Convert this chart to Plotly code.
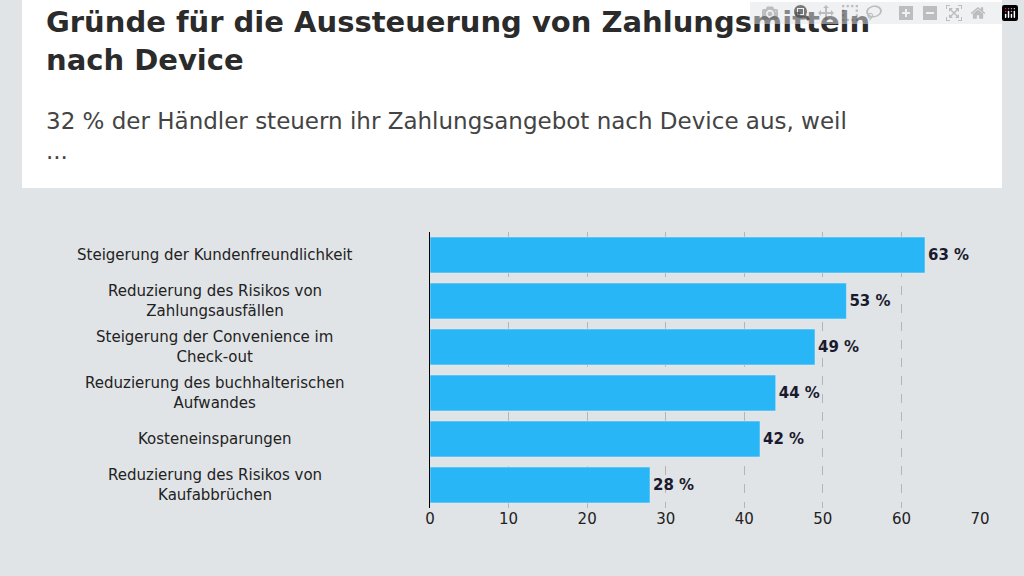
import plotly.graph_objects as go

categories = [
    "Steigerung der Kundenfreundlichkeit",
    "Reduzierung des Risikos von<br>Zahlungsausfällen",
    "Steigerung der Convenience im<br>Check-out",
    "Reduzierung des buchhalterischen<br>Aufwandes",
    "Kosteneinsparungen",
    "Reduzierung des Risikos von<br>Kaufabbrüchen",
]
values = [63, 53, 49, 44, 42, 28]
ticks = [0, 10, 20, 30, 40, 50, 60, 70]

fig = go.Figure(go.Bar(
    x=values, y=categories, orientation="h",
    marker_color="#29b6f6", width=0.78,
    text=[f"<b>{v} %</b>" for v in values], textposition="outside",
    textfont=dict(size=15, color="#1a1a2e", family="DejaVu Sans"),
    cliponaxis=False,
))

# Kategorien als zentrierte Annotationen
for c in categories:
    fig.add_annotation(x=-0.391, y=c, xref="paper", yref="y", text=c,
                       showarrow=False, align="center", xanchor="center",
                       font=dict(size=15, color="#222", family="DejaVu Sans"))

fig.add_shape(type="rect", xref="paper", yref="paper", x0=-0.7418, x1=1.04,
              y0=1.1594, y1=1.9, fillcolor="white", line_width=0, layer="below")

fig.add_annotation(xref="paper", yref="paper", x=-0.7418 + 22 / 550, y=1.83,
                   xanchor="left", yanchor="top",
                   text="<b>Gründe für die Aussteuerung von Zahlungsmitteln<br>nach Device</b>",
                   showarrow=False, align="left",
                   font=dict(size=29, color="#2b2b2b", family="DejaVu Sans"))

fig.add_annotation(xref="paper", yref="paper", x=-0.7418 + 22 / 550, y=1.455,
                   xanchor="left", yanchor="top",
                   text="32 % der Händler steuern ihr Zahlungsangebot nach Device aus, weil<br>...",
                   showarrow=False, align="left",
                   font=dict(size=23, color="#444", family="DejaVu Sans"))

fig.update_layout(
    width=1024, height=576,
    paper_bgcolor="#e1e4e7", plot_bgcolor="#e1e4e7",
    margin=dict(l=430, r=44, t=232, b=68),
    showlegend=False,
    xaxis=dict(range=[0, 70], tickvals=ticks, showgrid=True, gridcolor="#b5b5b5",
               griddash="dash", zeroline=False,
               tickfont=dict(size=15, color="#222", family="DejaVu Sans")),
    yaxis=dict(autorange="reversed", showticklabels=False, showline=True,
               linecolor="black", linewidth=1),
    bargap=0.2,
)

fig.write_html("out.html", post_script="document.body.style.margin='0';document.body.style.overflow='hidden';")
